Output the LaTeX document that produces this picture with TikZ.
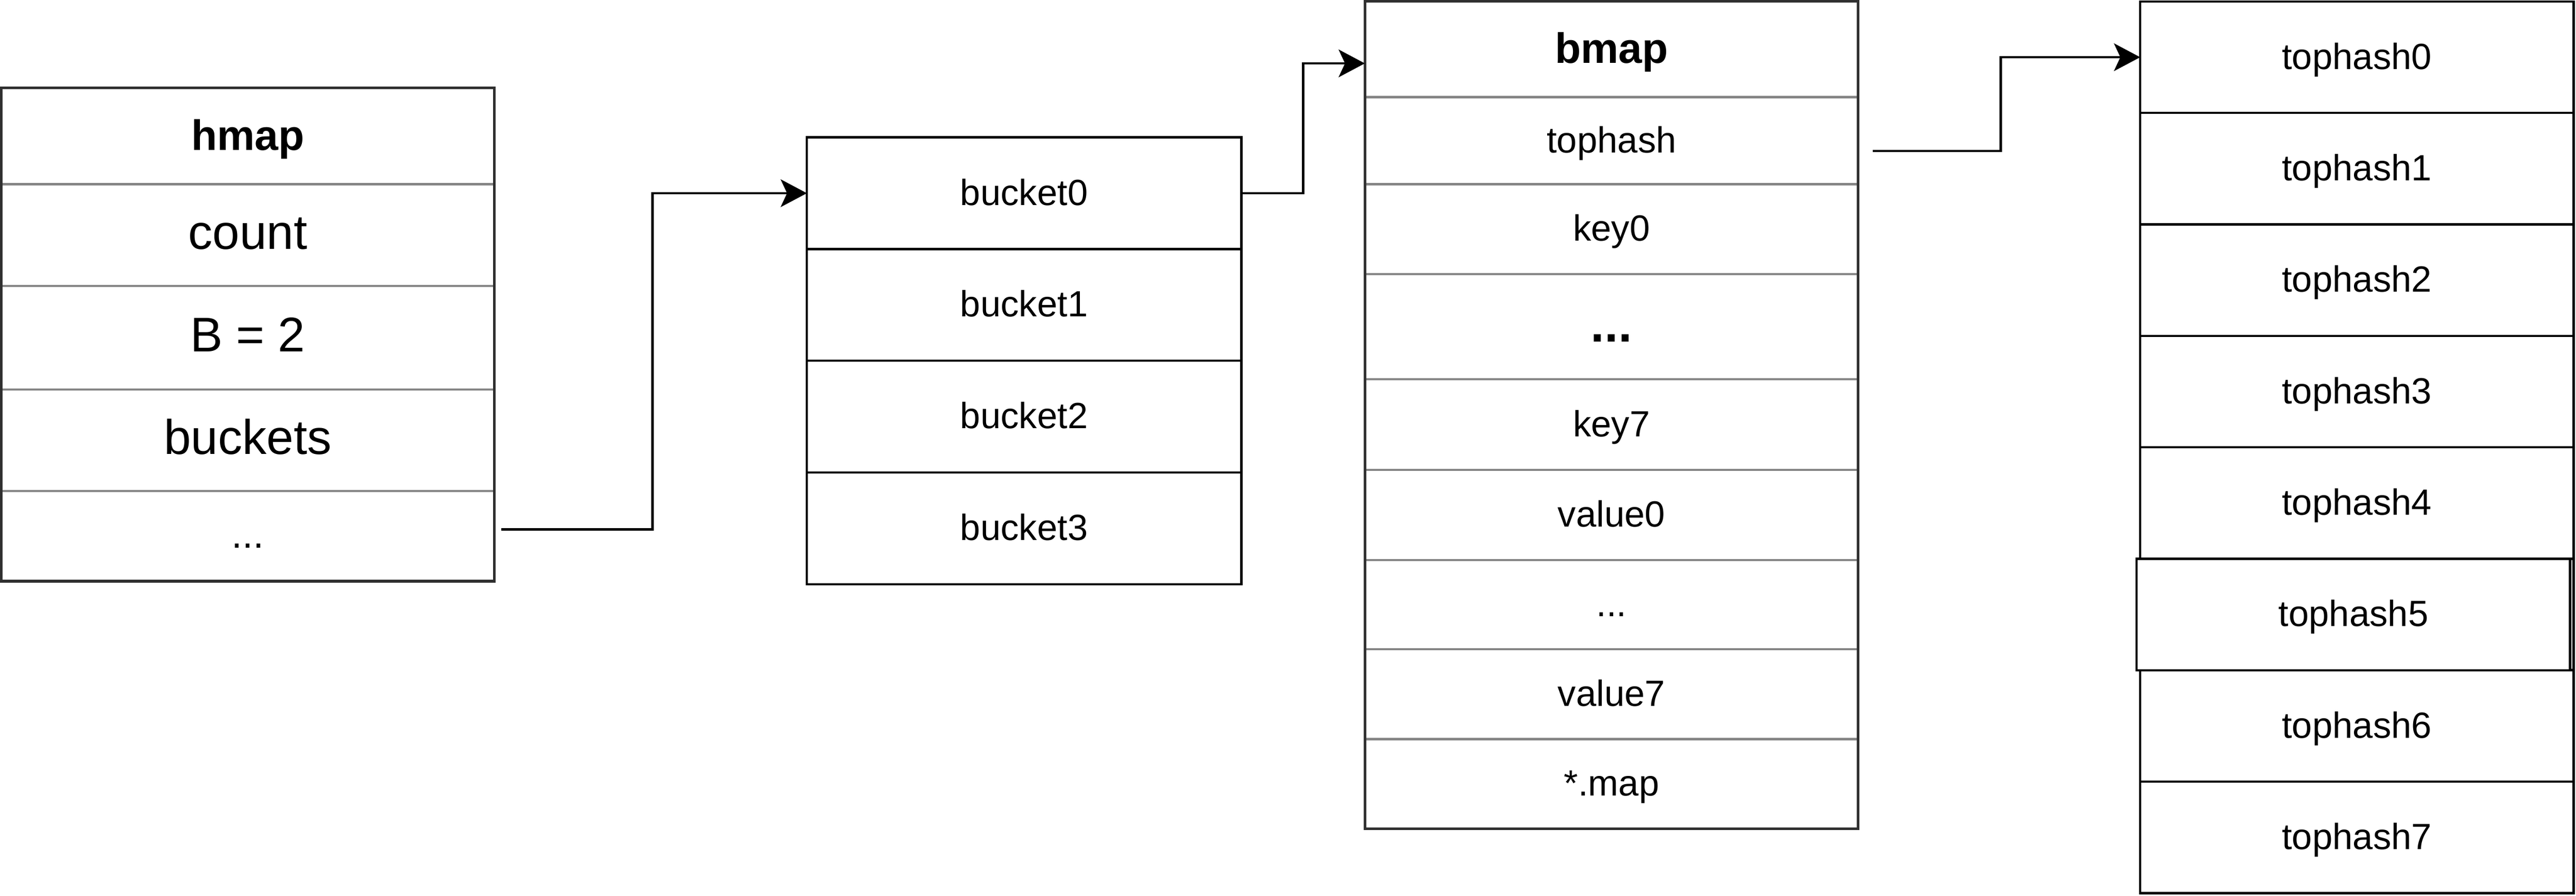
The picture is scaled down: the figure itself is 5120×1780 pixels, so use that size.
\documentclass[tikz,border=0pt]{standalone}
\usepackage{fontspec}
\setmainfont{Liberation Sans}
\usetikzlibrary{arrows.meta}
\definecolor{bord}{HTML}{303030}
\definecolor{sepc}{HTML}{858585}
\newcommand\fsA{\fontsize{20.6pt}{24pt}\selectfont}
\newcommand\fsB{\fontsize{27.5pt}{32pt}\selectfont}
\newcommand\fsH{\fontsize{24pt}{28pt}\selectfont\bfseries}
\newcommand\fsD{\fontsize{22pt}{26pt}\selectfont}
\newcommand\fsE{\fontsize{28pt}{32pt}\selectfont\bfseries}
\tikzset{
  cellbase/.style={rectangle, inner sep=0pt, outer sep=0pt, align=center},
  sA/.style={font=\fsA, text height=17.6pt, text depth=4.1pt},
  sB/.style={font=\fsB, text height=21.5pt, text depth=5.5pt},
  sH/.style={font=\fsH, text height=20.5pt, text depth=4.8pt},
  sD/.style={font=\fsD, text height=17.4pt, text depth=4.3pt},
  sE/.style={font=\fsE, text height=22.5pt, text depth=5.6pt},
  grayrow/.style={cellbase, draw=sepc, line width=1.2pt},
  hrow/.style={grayrow, minimum width=9.79cm},
  mrow/.style={grayrow, minimum width=9.80cm},
  brow/.style={cellbase, draw=black, line width=1.3pt, fill=white, minimum width=8.63cm, minimum height=2.22cm, sA},
  trow/.style={cellbase, draw=black, line width=1.3pt, fill=white, minimum width=8.61cm, minimum height=2.215cm, sA},
  outerbox/.style={draw=bord, line width=1.5pt},
  conn/.style={line width=1.4pt, -{Stealth[length=14.8pt, width=15.6pt, inset=3.6pt]}}
}
\begin{document}
\begin{tikzpicture}[x=0.01cm, y=-0.01cm]
\useasboundingbox (0,0) rectangle (5120,1780);
% hmap
\node[hrow, minimum height=1.91cm, sH] (hm0) at (492.5,270.5) {hmap};
\node[hrow, minimum height=2.02cm, sB] (hm1) at (492.5,467) {count};
\node[hrow, minimum height=2.06cm, sB] (hm2) at (492.5,671) {B = 2};
\node[hrow, minimum height=2.02cm, sB] (hm3) at (492.5,875) {buckets};
\node[hrow, minimum height=1.79cm, sD] (hm4) at (492.5,1065.5) {...};
\draw[outerbox] (hm0.north west) rectangle (hm4.south east);
% buckets
\node[brow] (b0) at (2035.5,384) {bucket0};
\node[brow] (b1) at (2035.5,606) {bucket1};
\node[brow] (b2) at (2035.5,828) {bucket2};
\node[brow] (b3) at (2035.5,1050) {bucket3};
% bmap
\node[mrow, minimum height=1.90cm, sH] (bm0) at (3203,98) {bmap};
\node[mrow, minimum height=1.73cm, sA] (bm1) at (3203,279.5) {tophash};
\node[mrow, minimum height=1.79cm, sA] (bm2) at (3203,455.5) {key0};
\node[mrow, minimum height=2.09cm, sE] (bm3) at (3203,649.5) {...};
\node[mrow, minimum height=1.80cm, sA] (bm4) at (3203,844) {key7};
\node[mrow, minimum height=1.79cm, sA] (bm5) at (3203,1023.5) {value0};
\node[mrow, minimum height=1.77cm, sA] (bm6) at (3203,1201.5) {...};
\node[mrow, minimum height=1.79cm, sA] (bm7) at (3203,1379.5) {value7};
\node[mrow, minimum height=1.78cm, sA] (bm8) at (3203,1558) {*.map};
\draw[outerbox] (bm0.north west) rectangle (bm8.south east);
% tophash column
\node[trow] (t0) at (4684.5,113.75) {tophash0};
\node[trow] (t1) at (4684.5,335.25) {tophash1};
\node[trow] (t2) at (4684.5,556.75) {tophash2};
\node[trow] (t3) at (4684.5,778.25) {tophash3};
\node[trow] (t4) at (4684.5,999.75) {tophash4};
\node[trow] (t5u) at (4684.5,1221.25) {};
\node[trow] (t6) at (4684.5,1442.75) {tophash6};
\node[trow] (t7) at (4684.5,1664.25) {tophash7};
\node[trow] (t5) at (4677.5,1221.25) {tophash5};
% connectors
\coordinate (s1) at (996,1052);
\draw[conn] (s1) -| (1297,384) -- (b0.west);
\coordinate (e2) at (bm0.west |- 0,126);
\draw[conn] (b0.east) -| (2590,126) -- (e2);
\coordinate (s3) at (3722,300);
\draw[conn] (s3) -| (3977,113.75) -- (t0.west);
\end{tikzpicture}
\end{document}
